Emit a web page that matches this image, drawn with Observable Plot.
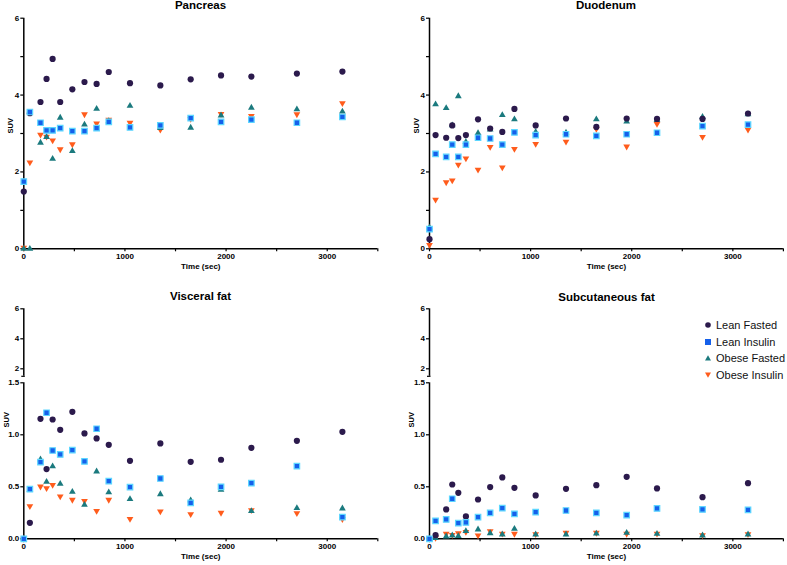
<!DOCTYPE html>
<html><head><meta charset="utf-8">
<script src="https://cdn.jsdelivr.net/npm/d3@7"></script>
<script src="https://cdn.jsdelivr.net/npm/@observablehq/plot@0.6"></script>
<style>
body{margin:0;background:#fff;font-family:"Liberation Sans",Arial,sans-serif;}
#wrap{position:relative;width:787px;height:565px;overflow:hidden;background:#fff;}
.ttl{position:absolute;font-weight:bold;font-size:11.5px;color:#000;transform:translate(-50%,-50%);white-space:nowrap;line-height:1;}
.pl{position:absolute;}
#legend{position:absolute;left:704px;top:317px;font-size:11px;color:#111;}
#legend div{height:16.5px;display:flex;align-items:center;white-space:nowrap;}
#legend svg{margin-right:4px;}
</style></head><body><div id="wrap"></div><script>
const times = [0,60,165,225,285,360,480,600,720,840,1050,1350,1650,1950,2250,2700,3150];
const seriesNames = ["Lean Fasted","Lean Insulin","Obese Fasted","Obese Insulin"];
const panelTitles = ["Pancreas","Duodenum","Visceral fat","Subcutaneous fat"];

const pancLF = [1.49,3.53,3.82,4.42,4.94,3.82,4.15,4.34,4.29,4.60,4.31,4.25,4.41,4.51,4.48,4.56,4.61];
const pancLI = [1.75,3.56,3.28,3.08,3.08,3.14,3.06,3.06,3.14,3.30,3.16,3.21,3.40,3.30,3.36,3.28,3.43];
const pancOF = [0,0,2.76,2.91,2.34,3.41,2.54,3.23,3.64,3.32,3.72,3.14,3.15,3.47,3.67,3.63,3.57];
const pancOI = [0.03,2.25,2.97,2.92,2.82,2.59,2.72,3.50,3.26,3.36,3.28,3.10,3.38,3.51,3.46,3.50,3.79];

const duoLF = [0.25,2.96,2.89,3.21,2.88,2.96,3.37,3.13,3.04,3.64,3.21,3.39,3.17,3.39,3.38,3.38,3.52];
const duoLI = [0.51,2.47,2.39,2.71,2.39,2.71,2.89,2.87,2.71,3.03,2.96,2.98,2.94,2.98,3.02,3.19,3.23];
const duoOF = [0.55,3.76,3.66,3.21,3.97,2.78,3.01,3.10,3.48,3.37,3.04,3.02,3.37,3.31,3.35,3.43,3.50];
const duoOI = [0.10,1.28,1.73,1.78,2.19,2.35,2.06,2.65,2.12,2.60,2.73,2.79,3.12,2.66,3.25,2.91,3.10];

const visLF = [0,0.154,1.154,0.67,1.147,1.048,1.221,1.013,0.965,0.904,0.75,0.917,0.74,0.76,0.875,0.942,1.029];
const visLI = [0,0.478,0.737,1.212,0.849,0.811,0.853,0.744,1.058,0.554,0.497,0.58,0.346,0.5,0.535,0.699,0.208];
const visOF = [0,0.47,0.763,0.548,0.696,0.529,0.452,0.327,0.647,0.446,0.381,0.429,0.37,0.47,0.266,0.295,0.292];
const visOI = [0,0.314,0.503,0.487,0.519,0.407,0.375,0.365,0.269,0.375,0.192,0.263,0.237,0.25,0.276,0.247,0.19];

const subLF = [0,0.035,0.282,0.522,0.442,0.215,0.378,0.497,0.59,0.49,0.417,0.481,0.516,0.596,0.484,0.4,0.535];
const subLI = [0,0.173,0.186,0.385,0.151,0.157,0.208,0.25,0.295,0.24,0.256,0.272,0.25,0.228,0.292,0.282,0.279];
const subOF = [0,0.006,0.022,0.032,0.026,0.074,0.09,0.054,0.042,0.096,0.042,0.042,0.05,0.058,0.048,0.032,0.042];
const subOI = [0,0.01,0.048,0.038,0.054,0.067,0.032,0.074,0.05,0.048,0.045,0.058,0.058,0.048,0.05,0.035,0.045];

const xTicks = [0,1000,2000,3000];
const xMinor = [500,1500,2500,3500];

const S3 = Math.sqrt(3);
const downTriangle = {draw(ctx, size){ const y = -Math.sqrt(size/(S3*3)); ctx.moveTo(0,-2*y); ctx.lineTo(-S3*y, y); ctx.lineTo(S3*y, y); ctx.closePath(); }};
const styles = [
  {symbol:"circle", fill:"#2b1a4c", stroke:"none", sw:0, r:3.1},
  {symbol:"square", fill:"#1560ea", stroke:"#5cd6ff", sw:1.2, r:3.1},
  {symbol:"triangle", fill:"#1b7a7e", stroke:"none", sw:0, r:2.5},
  {symbol:downTriangle, fill:"#ff5c1c", stroke:"none", sw:0, r:2.5}
];
const drawOrder = [3,2,0,1];
const intFmt = d => String(d);

function dots(vals){
  return drawOrder.map(k => {
    const rows = times.map((t,i)=>({t, v: vals[k][i]}));
    const s = styles[k];
    return Plot.dot(rows, {x:"t", y:"v", symbol:s.symbol, fill:s.fill, stroke:s.stroke, strokeWidth:s.sw, r:s.r});
  });
}
const svgStyle = {background:"transparent", overflow:"visible", fontFamily:"'Liberation Sans',Arial,sans-serif", fontSize:"8px", fontWeight:"bold", color:"#000"};

function xAxes(){
  return [
    Plot.axisX({ticks:xTicks, tickFormat:intFmt, tickSize:3, tickPadding:2, label:null, strokeWidth:1.2}),
    Plot.axisX({ticks:xMinor, tickSize:3, tickFormat:()=>"", label:null, strokeWidth:1.2}),
    Plot.ruleY([0], {strokeWidth:1.5}),
    Plot.text(["Time (sec)"], {text:d=>d, frameAnchor:"bottom", dy:20, fontSize:8})
  ];
}

function fullPanel(vals, w, ml, mr){
  return Plot.plot({
    width:w, height:280, marginLeft:ml, marginRight:mr, marginTop:17.7, marginBottom:31.7,
    x:{domain:[0,3500]}, y:{domain:[0,6]}, style:svgStyle,
    marks:[
      ...xAxes(),
      Plot.axisY({ticks:[0,2,4,6], tickFormat:intFmt, tickSize:3, tickPadding:1.5, label:null, strokeWidth:1.2}),
      Plot.axisY({ticks:[1,3,5], tickSize:3, tickFormat:()=>"", label:null, strokeWidth:1.2}),
      Plot.ruleX([0], {strokeWidth:1.5}),
      Plot.text(["SUV"], {text:d=>d, frameAnchor:"left", dx:-13, rotate:-90, fontSize:7.5}),
      ...dots(vals)
    ]
  });
}
function upperSeg(w, ml, mr){
  return Plot.plot({
    width:w, height:90, marginLeft:ml, marginRight:mr, marginTop:18.3, marginBottom:4.2,
    x:{domain:[0,3500], axis:null}, y:{domain:[1.5,6]}, style:svgStyle,
    marks:[
      Plot.axisY({ticks:[2,4,6], tickFormat:intFmt, tickSize:3, tickPadding:1.5, label:null, strokeWidth:1.2}),
      Plot.ruleX([0], {strokeWidth:1.5}),
      Plot.ruleY([1.5], {x1:-20, x2:15, strokeWidth:1.2})
    ]
  });
}
function lowerSeg(vals, w, ml, mr){
  return Plot.plot({
    width:w, height:195, marginLeft:ml, marginRight:mr, marginTop:12.3, marginBottom:26.7,
    x:{domain:[0,3500]}, y:{domain:[0,1.5]}, style:svgStyle,
    marks:[
      ...xAxes(),
      Plot.axisY({ticks:[0,0.5,1,1.5], tickFormat:d3.format(".1f"), tickSize:3, tickPadding:1.5, label:null, strokeWidth:1.2}),
      Plot.ruleX([0], {strokeWidth:1.5}),
      Plot.text(["SUV"], {text:d=>d, frameAnchor:"top-left", dx:-20.6, dy:44.7, rotate:-90, fontSize:7.5}),
      ...dots(vals)
    ]
  });
}

const wrap = document.getElementById("wrap");
function place(el, left, top){ el.classList.add("pl"); el.style.left=left+"px"; el.style.top=top+"px"; wrap.appendChild(el); }
function title(t, cx, cy){ const d=document.createElement("div"); d.className="ttl"; d.textContent=t; d.style.left=cx+"px"; d.style.top=cy+"px"; wrap.appendChild(d); }

place(fullPanel([pancLF,pancLI,pancOF,pancOI], 390, 23.3, 12.7), 0, 0);
place(fullPanel([duoLF,duoLI,duoOF,duoOI], 397, 39, 4.1), 390, 0);
place(upperSeg(390, 23.3, 12.7), 0, 290);
place(lowerSeg([visLF,visLI,visOF,visOI], 390, 23.3, 12.7), 0, 370);
place(upperSeg(397, 39, 4.1), 390, 290);
place(lowerSeg([subLF,subLI,subOF,subOI], 397, 39, 4.1), 390, 370);

title(panelTitles[0], 200.5, 6);
title(panelTitles[1], 606, 6);
title(panelTitles[2], 200.5, 297);
title(panelTitles[3], 606.5, 297.5);

// legend
const leg = document.createElement("div"); leg.id="legend";
const legSym = [
  '<circle cx="4" cy="4" r="2.8" fill="#2b1a4c"/>',
  '<rect x="1" y="1" width="6" height="6" fill="#1560ea"/>',
  '<path d="M4,1.2L7,6.4L1,6.4Z" fill="#1b7a7e"/>',
  '<path d="M4,6.8L7,1.6L1,1.6Z" fill="#ff5c1c"/>'
];
seriesNames.forEach((n,i)=>{
  const row=document.createElement("div");
  row.innerHTML = '<svg width="8" height="8">'+legSym[i]+'</svg><span></span>';
  row.querySelector("span").textContent = n;
  leg.appendChild(row);
});
wrap.appendChild(leg);
</script></body></html>
